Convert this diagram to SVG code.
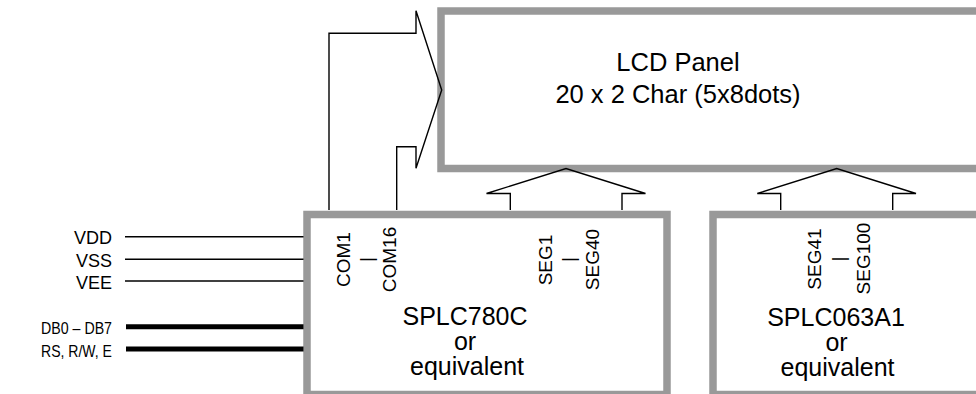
<svg xmlns="http://www.w3.org/2000/svg" width="976" height="394" viewBox="0 0 976 394">
<style>
.box{fill:#fff;stroke:#999;stroke-width:7.5}
.t{font-family:"Liberation Sans",Arial,sans-serif;fill:#000}
.big{font-size:25px;text-anchor:middle}
.sm{font-size:18px}
.rot{font-size:19px;text-anchor:middle}
.ln{fill:none;stroke:#000;stroke-width:1.4}
.bus{fill:none;stroke:#000;stroke-width:5}
</style>
<rect width="976" height="394" fill="#fff"/>
<g id="lcd-panel">
<rect class="box" x="441" y="11" width="560" height="157.5"/>
<text class="t big" style="font-size:25.5px"><tspan x="678" y="71">LCD Panel</tspan><tspan x="678" y="103">20 x 2 Char (5x8dots)</tspan></text>
</g>
<g id="splc780c">
<rect class="box" x="307" y="214.5" width="360" height="180"/>
<text class="t rot" transform="translate(350,259.5) rotate(-90)">COM1</text>
<text class="t rot" transform="translate(372.5,259.5) rotate(-90)">|</text>
<text class="t rot" transform="translate(395.5,259.5) rotate(-90)">COM16</text>
<text class="t rot" transform="translate(551.5,260) rotate(-90)">SEG1</text>
<text class="t rot" transform="translate(575,259.5) rotate(-90)">|</text>
<text class="t rot" transform="translate(598.5,259.5) rotate(-90)">SEG40</text>
<text class="t big"><tspan x="465" y="325">SPLC780C</tspan><tspan x="465" y="350">or</tspan><tspan x="467" y="375">equivalent</tspan></text>
</g>
<g id="splc063a1">
<rect class="box" x="713" y="214.5" width="300" height="180"/>
<text class="t rot" transform="translate(821,259) rotate(-90)">SEG41</text>
<text class="t rot" transform="translate(845,259) rotate(-90)">|</text>
<text class="t rot" transform="translate(869.5,258.5) rotate(-90)">SEG100</text>
<text class="t big"><tspan x="836" y="326">SPLC063A1</tspan><tspan x="836.5" y="351">or</tspan><tspan x="837.5" y="376">equivalent</tspan></text>
</g>
<g id="signal-labels">
<text class="t sm" x="112" y="244" text-anchor="end">VDD</text>
<text class="t sm" x="112" y="266.5" text-anchor="end">VSS</text>
<text class="t sm" x="112" y="289" text-anchor="end">VEE</text>
<text class="t sm" style="font-size:17px" x="112" y="334" text-anchor="end" textLength="71" lengthAdjust="spacingAndGlyphs">DB0 – DB7</text>
<text class="t sm" style="font-size:17px" x="112" y="356.5" text-anchor="end" textLength="71" lengthAdjust="spacingAndGlyphs">RS, R/W, E</text>
</g>
<g id="connectors">
<path class="ln" d="M329,210 V33.3 H416 V10.7 L441.7,90 L416,168.3 V146.7 H396.7 V210"/>
<path class="ln" d="M510.3,210 V193.5 H486.5 L566,168.5 L645.5,193.5 H622 V210"/>
<path class="ln" d="M780.7,210 V193.5 H757.3 L836.7,168.5 L916,193.5 H892.7 V210"/>
<line class="ln" x1="125" y1="236.7" x2="303.5" y2="236.7"/>
<line class="ln" x1="125" y1="259.3" x2="303.5" y2="259.3"/>
<line class="ln" x1="125" y1="281" x2="303.5" y2="281"/>
<line class="bus" x1="126" y1="326.7" x2="303.5" y2="326.7"/>
<line class="bus" x1="126" y1="349" x2="303.5" y2="349"/>
</g>
</svg>
